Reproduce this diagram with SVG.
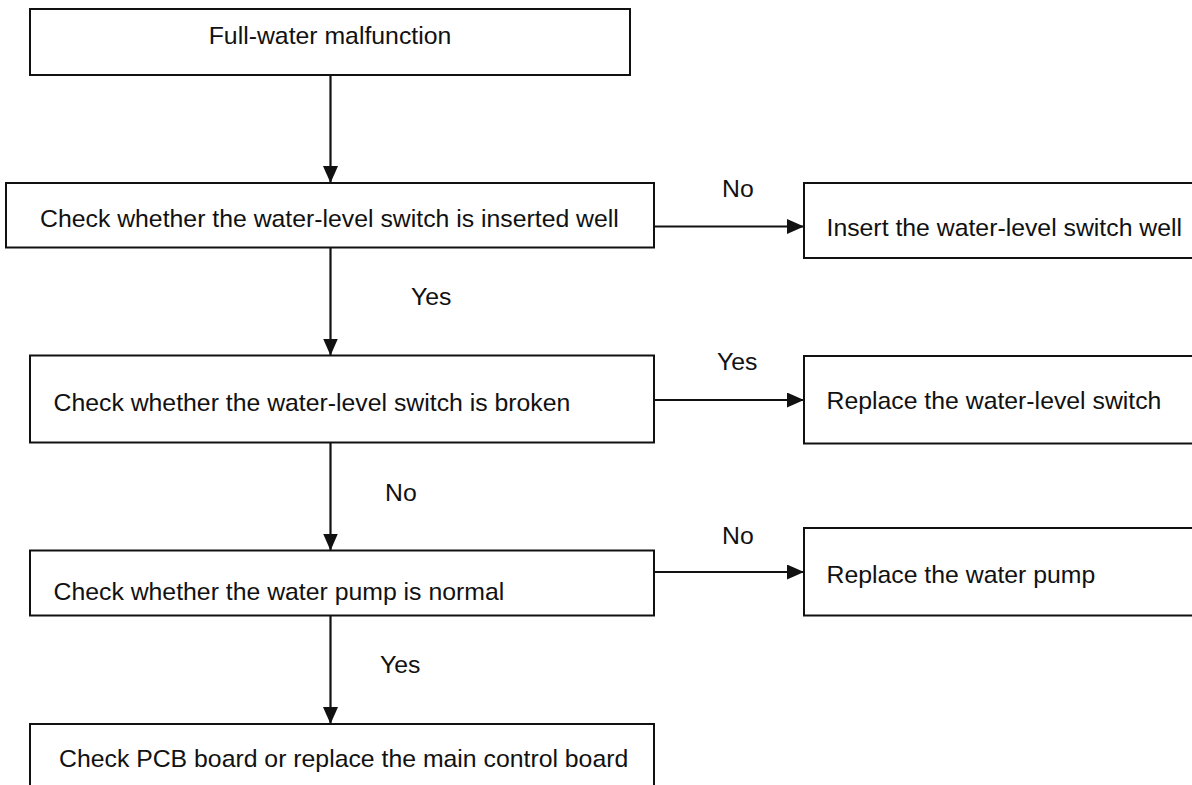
<svg xmlns="http://www.w3.org/2000/svg" width="1192" height="785" viewBox="0 0 1192 785">
<style>
.box{fill:#fff;stroke:#111;stroke-width:2}
.t{font-family:"Liberation Sans",Arial,sans-serif;font-size:24.8px;fill:#111}
.c{text-anchor:middle}
.conn{stroke:#111;stroke-width:2.2;fill:none}
</style>
<defs>
<marker id="arr" markerUnits="userSpaceOnUse" markerWidth="17" markerHeight="15" refX="17" refY="7.5" orient="auto">
<path d="M0,0 L17,7.5 L0,15 z" fill="#111"/>
</marker>
</defs>
<rect width="1192" height="785" fill="#fff"/>
<g id="connectors">
<line class="conn" x1="330.5" y1="75" x2="330.5" y2="183" marker-end="url(#arr)"/>
<line class="conn" x1="330.5" y1="247.5" x2="330.5" y2="355.5" marker-end="url(#arr)"/>
<line class="conn" x1="330.5" y1="442.5" x2="330.5" y2="550.5" marker-end="url(#arr)"/>
<line class="conn" x1="330.5" y1="615.5" x2="330.5" y2="724" marker-end="url(#arr)"/>
<line class="conn" x1="654" y1="226.5" x2="804" y2="226.5" marker-end="url(#arr)"/>
<line class="conn" x1="654" y1="400" x2="804" y2="400" marker-end="url(#arr)"/>
<line class="conn" x1="654" y1="572" x2="804" y2="572" marker-end="url(#arr)"/>
<text class="t" x="722" y="197">No</text>
<text class="t" x="411" y="305">Yes</text>
<text class="t" x="717" y="370">Yes</text>
<text class="t" x="385" y="501">No</text>
<text class="t" x="722" y="544">No</text>
<text class="t" x="380" y="673">Yes</text>
</g>
<g id="n1"><rect class="box" x="30" y="9" width="600" height="66"/><text class="t c" x="330" y="44">Full-water malfunction</text></g>
<g id="n2"><rect class="box" x="6" y="183" width="648" height="64.5"/><text class="t" x="40" y="227">Check whether the water-level switch is inserted well</text></g>
<g id="n3"><rect class="box" x="804" y="183" width="400" height="75"/><text class="t" x="826.5" y="236">Insert the water-level switch well</text></g>
<g id="n4"><rect class="box" x="30" y="355.5" width="624" height="87"/><text class="t" x="53.5" y="411">Check whether the water-level switch is broken</text></g>
<g id="n5"><rect class="box" x="804" y="356" width="400" height="87.5"/><text class="t" x="826.5" y="409">Replace the water-level switch</text></g>
<g id="n6"><rect class="box" x="30" y="550.5" width="624" height="65"/><text class="t" x="53.5" y="600">Check whether the water pump is normal</text></g>
<g id="n7"><rect class="box" x="804" y="528" width="400" height="87.5"/><text class="t" x="826.5" y="583">Replace the water pump</text></g>
<g id="n8"><rect class="box" x="30" y="724" width="624" height="80"/><text class="t" x="59" y="767">Check PCB board or replace the main control board</text></g>
</svg>
